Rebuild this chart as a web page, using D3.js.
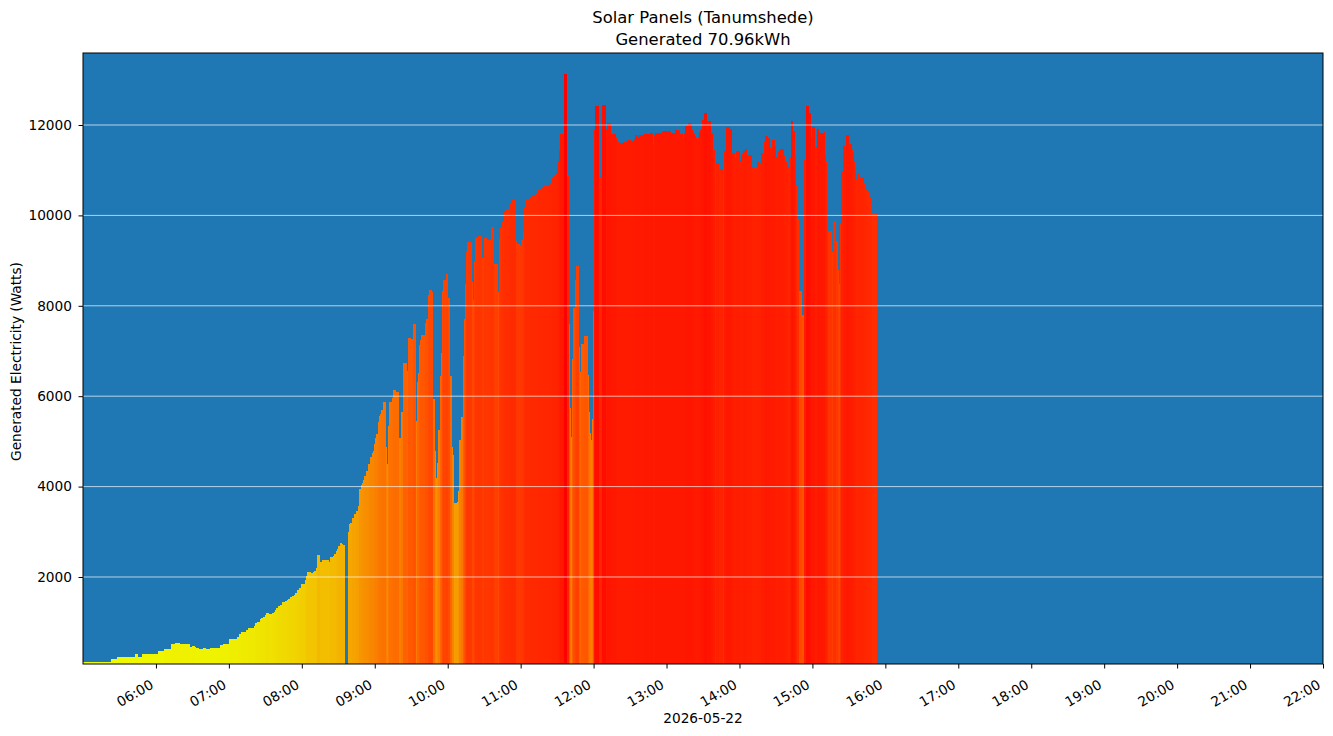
<!DOCTYPE html>
<html>
<head>
<meta charset="utf-8">
<script src="https://cdn.jsdelivr.net/npm/d3@7.9.0/dist/d3.min.js"></script>
<style>
  body { margin: 0; background: #fff; }
  svg { display: block; font-family: "DejaVu Sans", sans-serif; }
</style>
</head>
<body>
<svg id="chart" width="1333" height="736"></svg>
<script>
// readings for 2026-05-22, minutes after 05:00; each bar lasts until the next reading
const day = "2026-05-22";
const minutesAfterFive = [
  0, 23, 28, 42.5, 45, 48.5, 62, 66.6, 72.4, 75.7, 79.8, 88, 89.7, 92, 93, 95.4, 98.7, 101, 104.5, 112.7,
  115, 120, 126.7, 128.3, 130, 134, 135.7, 140.7, 141.5, 143.1, 145.6, 146.4, 148, 149.7, 150.5, 153, 155.5, 157, 158, 158.8,
  160.4, 162, 163.7, 166.2, 167.8, 168.6, 170.3, 171.9, 173.6, 174.4, 176, 177.7, 179.3, 182.6, 183.4, 184.3, 187.5, 189.2, 190, 191.7,
  192.5, 195, 196.6, 202.4, 203.2, 205.6, 206.5, 208.1, 208.9, 209.8, 211.4, 213, 213.9, 215.5, 218, 218.8, 219.6, 221.3, 222.9, 224.6,
  226.2, 227, 228.7, 229.5, 230.3, 231.1, 232.8, 234.4, 236.1, 237.7, 238.5, 239.4, 240.2, 241, 242.7, 243.5, 244.3, 245.1, 246.8, 249.2,
  250.1, 250.9, 251.7, 254.2, 255, 257.5, 260, 261.6, 263.2, 266.5, 267.3, 269.8, 271.4, 273.9, 274.7, 275.6, 276.4, 277.2, 278, 281.3,
  282.1, 283.8, 284.6, 287.1, 287.9, 289.5, 290.4, 291.2, 292, 293.7, 294.5, 295.3, 296.1, 298.6, 300.2, 301.9, 303.5, 304.4, 305.2, 307.6,
  308.5, 309.3, 310.9, 312.6, 313.4, 314.2, 315, 315.9, 319.2, 320, 320.8, 321.6, 322.5, 324.9, 328.2, 329.9, 332.3, 335.6, 338, 341.3,
  342.1, 343, 344.6, 346.3, 347.9, 350.4, 351.2, 352, 356.1, 356.9, 359.4, 360.2, 361.9, 362.7, 363.5, 364.4, 367.6, 369.3, 370.9, 372.6,
  373.4, 374.2, 377.5, 379.2, 380.8, 383.3, 385.7, 387.4, 389, 389.9, 390.7, 391.5, 392.3, 395.6, 398.1, 399.8, 400.6, 401.4, 402.2, 403.1,
  404.7, 405.5, 408, 408.8, 409.6, 412.1, 415.4, 416.2, 417, 417.9, 418.7, 419.5, 420.3, 421.2, 424.4, 425.3, 426.9, 430.2, 431, 434.3,
  438.4, 439.3, 440.1, 440.9, 444.2, 447.5, 450.8, 453.2, 454.1, 456.5, 457.3, 461.4, 466.4, 468.8, 469.7, 470.5, 476.2, 483.6, 486.9, 490.2,
  491.1, 493.5, 494.3, 495.2, 497.6, 500.1, 500.9, 501.7, 502.6, 503.4, 504.2, 505, 505.9, 506.7, 507.5, 508.3, 509.1, 510.8, 513.3, 516.5,
  518.2, 519.8, 520.7, 523.1, 526.4, 527.2, 528.9, 532.2, 533.8, 536.3, 537.1, 540.4, 541.2, 542.9, 544.5, 546.2, 550.3, 552.7, 553.6, 554.4,
  556.9, 557.7, 560.2, 561, 563.5, 565.1, 566.8, 569.2, 570.1, 571.7, 572.5, 573.3, 576.6, 577.5, 579.1, 579.9, 581.6, 582.4, 584, 585.7,
  586.5, 587.3, 588.1, 589, 591.4, 593.1, 594.7, 597.2, 598.8, 599.7, 602.1, 603.8, 605.4, 606.2, 609.5, 610.4, 611.2, 612, 612.8, 616.1,
  616.9, 619.4, 621.1, 621.9, 622.7, 623.5, 625.2, 627.6, 630.1, 632.6, 633.4, 634.2, 635, 635.9, 636.7, 639.1, 642.4, 643.3, 644.1, 645.7,
  646.6, 647.4, 649, 653.1
];
const watts = [
  120, 186, 230, 296, 230, 296, 363, 407, 518, 540, 518, 451, 474, 451, 429, 407, 429, 407, 429, 496,
  518, 628, 673, 739, 783, 827, 872, 916, 982, 1004, 1070, 1093, 1115, 1159, 1203, 1181, 1203, 1226, 1270, 1314,
  1358, 1380, 1447, 1469, 1491, 1513, 1557, 1579, 1601, 1645, 1712, 1756, 1845, 1933, 2022, 2110, 2088, 2110, 2132, 2199,
  2487, 2332, 2376, 2332, 2443, 2465, 2509, 2575, 2619, 2685, 2752, 2729, 2707, null, 2996, 3173, 3195, 3306, 3394, 3460,
  3571, 3947, 4036, 4080, 4146, 4234, 4345, 4500, 4655, 4743, 4787, 4942, 5075, 5164, 5429, 5562, 5606, 5695, 5872, 4876,
  4500, 5341, 5872, 5960, 6137, 6093, 5075, 5650, 6733, 6556, 7288, 7266, 7598, 5451, 6314, 6513, 7133, 7244, 7355, 7620,
  7708, 8239, 8350, 8306, 5937, 4787, 4190, 4522, 5252, 6447, 6955, 8328, 8571, 8704, 8173, 6447, 4876, 4699, 3638, 3660,
  3903, 5031, 5540, 6889, 7708, 8482, 9212, 9412, 9389, 8527, 8129, 8991, 9500, 9544, 9058, 9500, 9456, 9743, 8924, 8305,
  9478, 9721, 9854, 10075, 10119, 10208, 10274, 10363, 9434, 9368, 9346, 9456, 9655, 10164, 10296, 10363, 10385, 10429, 10452, 10496,
  10540, 10584, 10628, 10650, 10673, 10717, 10827, 10872, 10938, 11071, 11204, 11425, 11801, 13128, 10872, 7597, 5739, 5098, 6823, 7951,
  8571, 8880, 7088, 6535, 7155, 7332, 6469, 5650, 5185, 5031, 5495, 7885, 11889, 12420, 10827, 10850, 12442, 11912, 12044, 11801,
  11712, 11646, 11624, 11602, 11624, 11668, 11646, 11690, 11779, 11735, 11779, 11801, 11823, 11580, 11779, 11823, 11867, 11823, 11889, 11867,
  11801, 11735, 11823, 11978, 12044, 12022, 11889, 11845, 11801, 11757, 11712, 11668, 11735, 11845, 11889, 11911, 12110, 12265, 12088, 11823,
  11447, 10739, 11159, 11027, 10300, 11425, 11956, 11911, 11380, 11270, 11425, 11204, 11358, 11425, 11469, 11336, 11071, 11004, 11049, 11181,
  11159, 11381, 11624, 11757, 11712, 11491, 11668, 11535, 11292, 11403, 11447, 11469, 11314, 11181, 11093, 11071, 11292, 12088, 11867, 11314,
  10673, 9942, 9920, 8327, 7796, 11226, 12420, 12265, 11735, 11956, 11513, 11912, 11845, 11823, 11845, 11314, 11181, 10429, 9655, 9190,
  9876, 9434, 8792, 8482, 9832, 10982, 11535, 11779, 11580, 11447, 11381, 11181, 11004, 10783, 10916, 10850, 10717, 10673, 10584, 10518,
  10451, 10385, 10031, null
];
const yTicks = [2000, 4000, 6000, 8000, 10000, 12000];
const titleLines = ["Solar Panels (Tanumshede)", "Generated 70.96kWh"];
const yLabel = "Generated Electricity (Watts)";

// colour ramp, yellow for little power to red at the peak
const colorStops = [0, 450, 1000, 2000, 3000, 4500, 7000, 10000, 12000, 13128];
const colorRange = ["#efff00", "#f0f200", "#efe600", "#f2c800", "#f5aa00", "#f88a00",
  "#ff5c00", "#ff2e00", "#ff1600", "#ff0000"];

const width = 1333, height = 736;
const area = { left: 83, right: 1323, top: 53, bottom: 664 };
const tickFont = 13.7;

const start = new Date(day + "T05:00:00");
const toDate = (m) => new Date(start.getTime() + m * 60000);

const readings = minutesAfterFive.slice(0, -1).map((m, i) => ({
  t0: toDate(m),
  t1: toDate(minutesAfterFive[i + 1]),
  w: watts[i]
})).filter((d) => d.w !== null);

const svg = d3.select("#chart");

const x = d3.scaleTime()
  .domain([start, new Date(day + "T22:00:00")])
  .range([area.left, area.right]);

const y = d3.scaleLinear()
  .domain([75, 13593])
  .range([area.bottom, area.top]);

const color = d3.scaleLinear().domain(colorStops).range(colorRange).clamp(true);

svg.append("rect")
  .attr("x", area.left)
  .attr("y", area.top)
  .attr("width", area.right - area.left)
  .attr("height", area.bottom - area.top)
  .attr("fill", "#1f77b4");

svg.append("g")
  .attr("shape-rendering", "crispEdges")
  .selectAll("rect")
  .data(readings)
  .join("rect")
  .attr("x", (d) => x(d.t0))
  .attr("width", (d) => x(d.t1) - x(d.t0))
  .attr("y", (d) => y(d.w))
  .attr("height", (d) => area.bottom - y(d.w))
  .attr("fill", (d) => color(d.w));

// white grid on top of the bars
svg.append("g")
  .selectAll("line")
  .data(yTicks)
  .join("line")
  .attr("x1", area.left)
  .attr("x2", area.right)
  .attr("y1", (d) => y(d))
  .attr("y2", (d) => y(d))
  .attr("stroke", "#ffffff")
  .attr("stroke-opacity", 0.85)
  .attr("stroke-width", 0.8);

svg.append("rect")
  .attr("x", area.left)
  .attr("y", area.top)
  .attr("width", area.right - area.left)
  .attr("height", area.bottom - area.top)
  .attr("fill", "none")
  .attr("stroke", "#000")
  .attr("stroke-width", 1);

const xAxis = svg.append("g")
  .attr("transform", `translate(0,${area.bottom})`)
  .call(d3.axisBottom(x)
    .ticks(d3.timeHour.every(1))
    .tickFormat(d3.timeFormat("%H:%M"))
    .tickSize(4.5)
    .tickSizeOuter(0));
xAxis.select(".domain").remove();
xAxis.selectAll(".tick")
  .filter((d) => d.getHours() === 5)
  .remove();
xAxis.selectAll(".tick text")
  .attr("font-size", tickFont)
  .attr("font-family", "DejaVu Sans")
  .attr("fill", "#000")
  .attr("text-anchor", "end")
  .attr("dy", null)
  .attr("y", null)
  .attr("transform", "translate(-2,23.5) rotate(-30)");

const yAxis = svg.append("g")
  .attr("transform", `translate(${area.left},0)`)
  .call(d3.axisLeft(y)
    .tickValues(yTicks)
    .tickFormat(d3.format("d"))
    .tickSize(4.5)
    .tickPadding(6.5));
yAxis.select(".domain").remove();
yAxis.selectAll(".tick text")
  .attr("font-size", tickFont)
  .attr("font-family", "DejaVu Sans")
  .attr("fill", "#000");

svg.append("text")
  .attr("x", (area.left + area.right) / 2)
  .attr("y", 723)
  .attr("text-anchor", "middle")
  .attr("font-size", tickFont)
  .text(day);

svg.append("text")
  .attr("transform", `translate(21,${(area.top + area.bottom) / 2 + 3}) rotate(-90)`)
  .attr("text-anchor", "middle")
  .attr("font-size", tickFont)
  .text(yLabel);

svg.append("g")
  .selectAll("text")
  .data(titleLines)
  .join("text")
  .attr("x", (area.left + area.right) / 2)
  .attr("y", (d, i) => 23 + i * 21.5)
  .attr("text-anchor", "middle")
  .attr("font-size", 16.4)
  .text((d) => d);
</script>
</body>
</html>
